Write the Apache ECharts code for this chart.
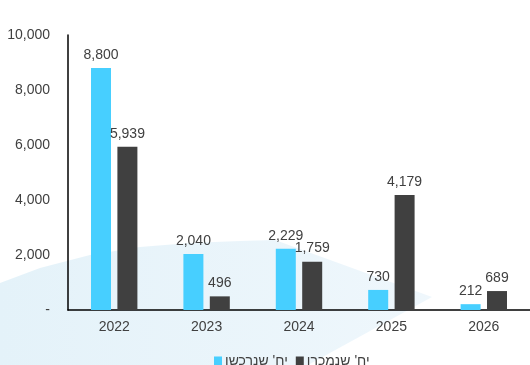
<!DOCTYPE html>
<html>
<head>
<meta charset="utf-8">
<script src="https://cdn.jsdelivr.net/npm/echarts@6/dist/echarts.min.js"></script>
<style>
  html, body { margin: 0; padding: 0; background: #ffffff; }
  #chart { width: 530px; height: 365px; }
</style>
</head>
<body>
<div id="chart"></div>
<script>
// Units bought vs. units sold per year
const years = ['2022', '2023', '2024', '2025', '2026'];
const boughtName = "יח' שנרכשו";
const soldName = "יח' שנמכרו";
const bought = [8800, 2040, 2229, 730, 212];
const sold = [5939, 496, 1759, 4179, 689];
const yTicks = [0, 2000, 4000, 6000, 8000, 10000];

const FONT = "'Liberation Sans', 'DejaVu Sans', Arial, sans-serif";
const TEXT = '#404040';

const chart = echarts.init(document.getElementById('chart'), null, { renderer: 'canvas' });

const fmt = v => v === 0 ? '-' : v.toLocaleString('en-US');

const labelStyle = {
  show: true,
  position: 'top',
  distance: 6,
  color: TEXT,
  fontFamily: FONT,
  fontSize: 14,
  formatter: p => fmt(p.value)
};

chart.setOption({
  animation: false,
  backgroundColor: '#ffffff',
  textStyle: { fontFamily: FONT },
  // soft decorative arrow-shaped backdrop behind the plot
  graphic: [{
    type: 'polygon',
    z: -10,
    silent: true,
    shape: {
      points: [
        [0, 283], [40, 268], [90, 255], [140, 247], [190, 243], [240, 241],
        [275, 240], [432, 297], [308, 365], [0, 365]
      ]
    },
    style: {
      fill: new echarts.graphic.LinearGradient(0, 0, 1, 0, [
        { offset: 0, color: '#e4f2f9' },
        { offset: 1, color: '#eff7fc' }
      ])
    }
  }],
  grid: { left: 68, right: 0, top: 35, bottom: 55, containLabel: false },
  legend: {
    top: 349,
    left: 209,
    itemWidth: 8,
    itemHeight: 9,
    itemGap: 8,
    icon: 'rect',
    textStyle: { color: TEXT, fontFamily: FONT, fontSize: 14, padding: [0, 0, 0, -2] },
    data: [boughtName, soldName]
  },
  xAxis: {
    type: 'category',
    data: years,
    axisLine: { show: true, lineStyle: { color: '#000000', width: 1.5 } },
    axisTick: { show: false },
    axisLabel: { color: TEXT, fontFamily: FONT, fontSize: 14, margin: 10 }
  },
  yAxis: {
    type: 'value',
    min: 0,
    max: 10000,
    interval: 2000,
    axisLine: { show: true, lineStyle: { color: '#000000', width: 1.5 } },
    axisTick: { show: false },
    splitLine: { show: false },
    axisLabel: {
      color: TEXT, fontFamily: FONT, fontSize: 14, margin: 18,
      formatter: v => yTicks.includes(v) ? fmt(v) : ''
    }
  },
  series: [
    {
      name: boughtName,
      type: 'bar',
      data: bought,
      barWidth: 20,
      barGap: '32%',
      itemStyle: { color: '#47cfff' },
      label: labelStyle
    },
    {
      name: soldName,
      type: 'bar',
      data: sold,
      barWidth: 20,
      itemStyle: { color: '#404040' },
      label: labelStyle
    }
  ]
});
</script>
</body>
</html>
